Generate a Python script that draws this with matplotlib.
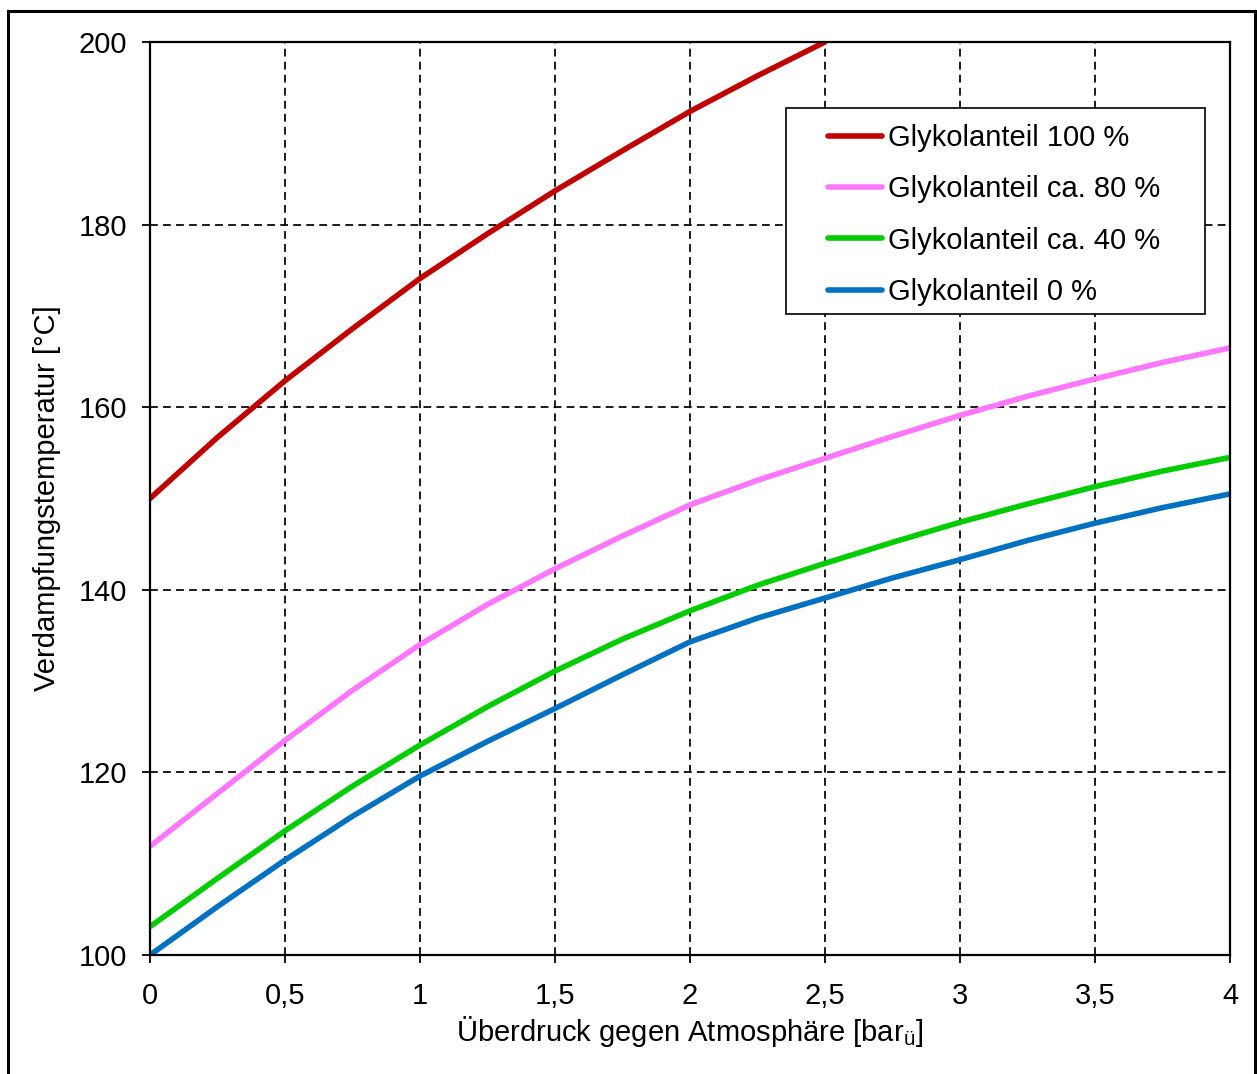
import matplotlib
matplotlib.use("Agg")
import matplotlib.pyplot as plt
from matplotlib.patches import Rectangle

plt.rcParams['font.family'] = ['Liberation Sans', 'DejaVu Sans']
plt.rcParams['mathtext.fontset'] = 'custom'
plt.rcParams['mathtext.rm'] = 'Liberation Sans'

# Data
pressure = [0, 0.25, 0.5, 0.75, 1.0, 1.25, 1.5, 1.75, 2.0, 2.25, 2.5, 2.75, 3.0, 3.25, 3.5, 3.75, 4.0]
pressure_100 = [0, 0.25, 0.5, 0.75, 1.0, 1.25, 1.5, 1.75, 2.0, 2.25, 2.5]
glycol_100 = [150.0, 156.7, 162.9, 168.6, 174.1, 179.0, 183.7, 188.1, 192.4, 196.3, 200.0]
glycol_80 = [111.9, 117.7, 123.5, 129.0, 134.0, 138.4, 142.3, 145.9, 149.3, 152.0, 154.4, 156.8, 159.1, 161.2, 163.1, 164.9, 166.5]
glycol_40 = [103.1, 108.4, 113.6, 118.5, 123.0, 127.2, 131.1, 134.6, 137.7, 140.5, 142.9, 145.2, 147.4, 149.4, 151.3, 153.0, 154.5]
glycol_0 = [100.0, 105.3, 110.4, 115.2, 119.6, 123.4, 127.0, 130.7, 134.3, 136.9, 139.1, 141.3, 143.3, 145.4, 147.3, 149.0, 150.5]

labels = ['Glykolanteil 100 %', 'Glykolanteil ca. 80 %', 'Glykolanteil ca. 40 %', 'Glykolanteil 0 %']
colors = ['#C00000', '#FF77FF', '#00CC00', '#0070C0']

x_ticks = [0, 0.5, 1, 1.5, 2, 2.5, 3, 3.5, 4]
x_ticklabels = ['0', '0,5', '1', '1,5', '2', '2,5', '3', '3,5', '4']
y_ticks = [100, 120, 140, 160, 180, 200]

W, H = 1257, 1074
fig = plt.figure(figsize=(W / 100, H / 100), dpi=100)
ax = fig.add_axes([150 / W, 1 - 955 / H, 1080 / W, 913 / H])

FS = 21
lw = 4.0
ax.plot(pressure_100, glycol_100, color=colors[0], lw=lw, label=labels[0], solid_capstyle='round', zorder=3)
ax.plot(pressure, glycol_80, color=colors[1], lw=lw, label=labels[1], solid_capstyle='round', zorder=3)
ax.plot(pressure, glycol_40, color=colors[2], lw=lw, label=labels[2], solid_capstyle='round', zorder=3)
ax.plot(pressure, glycol_0, color=colors[3], lw=lw, label=labels[3], solid_capstyle='round', zorder=3)

ax.set_xlim(0, 4)
ax.set_ylim(100, 200)
ax.set_xticks(x_ticks)
ax.set_xticklabels(x_ticklabels)
ax.set_yticks(y_ticks)

ax.grid(True, color='black', lw=1.25, linestyle=(0, (4.5, 3)))
ax.set_axisbelow(True)
for s in ax.spines.values():
    s.set_linewidth(1.6)
    s.set_color('black')
    s.set_zorder(4)

ax.tick_params(axis='both', direction='out', length=5.5, width=1.3, labelsize=FS, colors='black')
ax.tick_params(axis='x', pad=14)
ax.tick_params(axis='y', pad=11)

ax.set_xlabel('Überdruck gegen Atmosphäre [bar$_{\\mathrm{ü}}$]', fontsize=FS, labelpad=3)
ax.set_ylabel('Verdampfungstemperatur [°C]', fontsize=FS, labelpad=13)

# Legend box (Excel-style, wider horizontal padding)
ax.add_patch(Rectangle(((786 - 150) / 1080, (955 - 314) / 913), 419 / 1080, 206 / 913,
                       transform=ax.transAxes, facecolor='white', edgecolor='black',
                       lw=1.2, zorder=5, clip_on=False))
leg = ax.legend(loc='upper left', bbox_to_anchor=((828 - 150) / 1080, (955 - 124) / 913),
                fontsize=FS, frameon=False, handlelength=1.85,
                handletextpad=0.2, labelspacing=0.8, borderpad=0, borderaxespad=0)
leg.set_zorder(6)

# Outer frame
fig.patches.append(Rectangle((8 / W, -0.02), (1255 - 8) / W, 1.02 - 11 / H,
                             transform=fig.transFigure, fill=False, edgecolor='black', lw=2.2))

fig.savefig('out.png', dpi=100)
